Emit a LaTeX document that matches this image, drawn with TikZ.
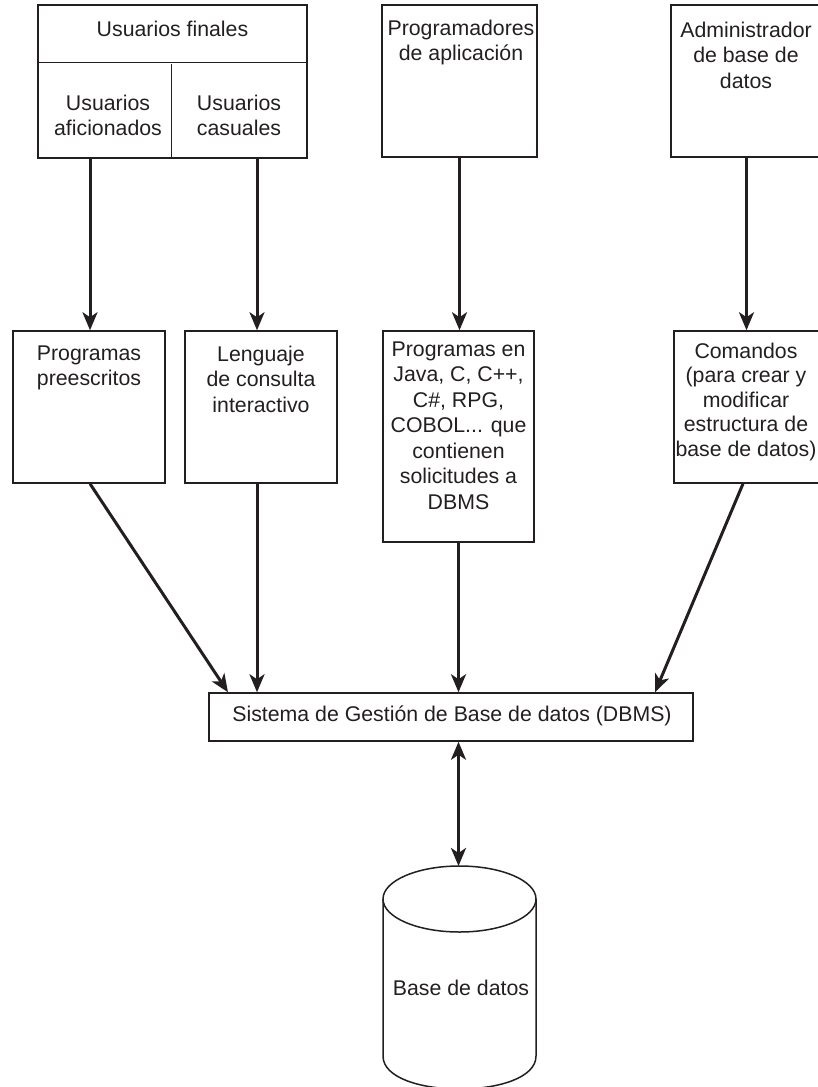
\documentclass[tikz,border=0pt]{standalone}
\usepackage{fontspec}
\setmainfont{Liberation Sans}
\usetikzlibrary{arrows.meta}
\definecolor{ink}{RGB}{35,31,32}
\begin{document}
\begin{tikzpicture}[x=1pt,y=-1pt,
  box/.style={draw=ink, line width=1.5pt, inner sep=0pt},
  lbl/.style={text=ink, font=\fontsize{21.3}{25.5}\selectfont, align=center, inner sep=0pt, anchor=north},
  arr/.style={draw=ink, line width=3pt, -{Stealth[length=18pt,width=15pt,inset=5pt]}},
  darr/.style={draw=ink, line width=3pt, {Stealth[length=18pt,width=15pt,inset=5pt]}-{Stealth[length=18pt,width=15pt,inset=5pt]}},
]
\useasboundingbox (0,0) rectangle (818,1087);

% boxes
\node[box, minimum width=269pt, minimum height=153pt] (uf) at (172.5,81.5) {};
\node[box, minimum width=155pt, minimum height=152pt] (prog) at (459.5,81) {};
\node[box, minimum width=151pt, minimum height=152pt] (adm) at (746.5,81) {};
\node[box, minimum width=152pt, minimum height=152pt] (pre) at (89,407) {};
\node[box, minimum width=152pt, minimum height=152pt] (len) at (261,407) {};
\node[box, minimum width=151pt, minimum height=211pt] (java) at (458.5,436.5) {};
\node[box, minimum width=146pt, minimum height=152pt] (com) at (747,407) {};
\node[box, minimum width=484pt, minimum height=48pt] (dbms) at (451,717) {};

% dividers of the end-user box
\draw[draw=ink, line width=1.5pt] ([yshift=-58pt]uf.north west) -- ([yshift=-58pt]uf.north east);
\draw[draw=ink, line width=1.5pt] ([xshift=134pt]uf.south west) -- ([xshift=134pt,yshift=95pt]uf.south west);

% labels
\node[lbl] (tuf) at (172.5,20.5) {Usuarios finales};
\node[lbl] (tafi) at (108,94.5) {Usuarios\\aficionados};
\node[lbl] (tcas) at (239,94.5) {Usuarios\\casuales};
\node[lbl] (tprog) at (461,19.5) {Programadores\\de aplicación};
\node[lbl] (tadm) at (746,21.5) {Administrador\\de base de\\datos};
\node[lbl] (tpre) at (89,345.5) {Programas\\preescritos};
\node[lbl] (tlen) at (261,345.5) {Lenguaje\\de consulta\\interactivo};
\node[lbl] (tjava) at (458.5,341.5) {Programas en\\Java, C, C++,\\C\#, RPG,\\COBOL... que\\contienen\\solicitudes a\\DBMS};
\node[lbl, font=\fontsize{21.3}{24.5}\selectfont] (tcom) at (746,342.5) {Comandos\\(para crear y\\modificar\\estructura de\\base de datos)};
\node[lbl, anchor=center] (tdbms) at (452,716) {Sistema de Gestión de Base de datos (DBMS)};

% cylinder
\draw[draw=ink, line width=1.5pt] (459.5,899) ellipse [x radius=76.5pt, y radius=33pt];
\draw[draw=ink, line width=1.5pt] (383,899) -- (383,1056) .. controls (383,1100) and (536,1100) .. (536,1056) -- (536,899);
\coordinate (cyltop) at (458.5,866);
\node[lbl, anchor=center] (tbd) at (461,988) {Base de datos};

% connectors
\coordinate (c1) at ([xshift=-4pt]len.north);
\coordinate (c0) at ([xshift=1pt]pre.north);
\draw[arr] (uf.south -| c0) -- (c0);
\draw[arr] (uf.south -| c1) -- (c1);
\draw[arr] (prog.south) -- (prog.south |- java.north);
\draw[arr] (adm.south) -- (adm.south |- com.north);
\draw[arr] (c0 |- pre.south) -- ([xshift=-223pt]dbms.north);
\draw[arr] (c1 |- len.south) -- (c1 |- dbms.north);
\draw[arr] (java.south) -- (java.south |- dbms.north);
\draw[arr] ([xshift=-4pt]com.south) -- ([xshift=204pt]dbms.north);
\draw[darr] (dbms.south -| cyltop) -- (cyltop);
\end{tikzpicture}
\end{document}
